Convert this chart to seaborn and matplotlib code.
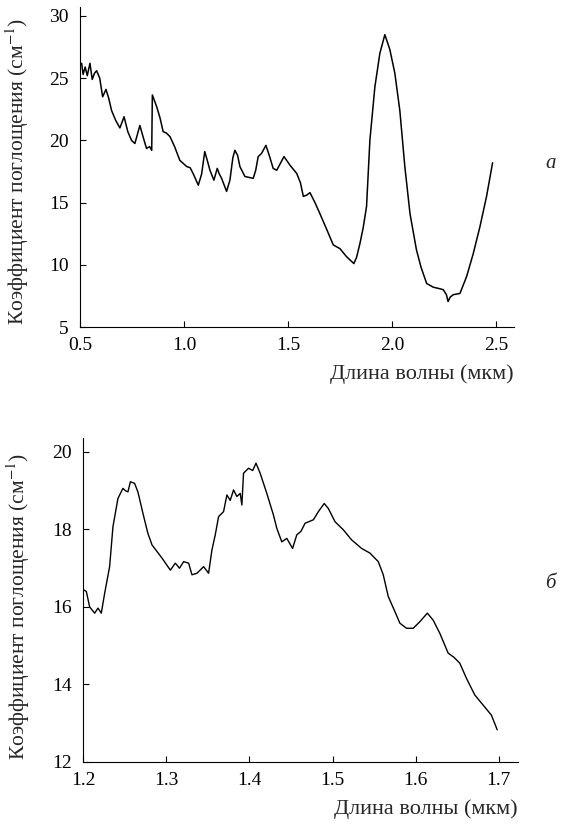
import matplotlib
matplotlib.use("Agg")
import matplotlib.pyplot as plt
import seaborn as sns
import pandas as pd

# panel a: absorption spectrum 0.5-2.5 um
wl_a = [0.508, 0.515, 0.525, 0.535, 0.548, 0.559, 0.57, 0.58, 0.595, 0.609, 0.625, 0.638,
        0.652, 0.672, 0.692, 0.712, 0.73, 0.748, 0.764, 0.788, 0.805, 0.82, 0.835, 0.845,
        0.848, 0.858, 0.869, 0.885, 0.90, 0.915, 0.933, 0.955, 0.98, 1.013, 1.03, 1.045,
        1.069, 1.085, 1.10, 1.112, 1.125, 1.144, 1.16, 1.17, 1.181, 1.205, 1.221, 1.235,
        1.245, 1.258, 1.269, 1.293, 1.333, 1.345, 1.357, 1.373, 1.394, 1.41, 1.429, 1.446,
        1.462, 1.481, 1.51, 1.542, 1.56, 1.574, 1.59, 1.606, 1.63, 1.654, 1.685, 1.718,
        1.75, 1.782, 1.817, 1.83, 1.846, 1.862, 1.878, 1.894, 1.918, 1.942, 1.966, 1.99,
        2.014, 2.038, 2.062, 2.087, 2.118, 2.14, 2.167, 2.199, 2.225, 2.247, 2.262, 2.27,
        2.28, 2.295, 2.327, 2.359, 2.391, 2.423, 2.455, 2.484]
abs_a = [26.2, 25.3, 25.9, 25.2, 26.2, 24.9, 25.4, 25.6, 25.0, 23.5, 24.1, 23.4,
         22.4, 21.6, 21.0, 21.9, 20.7, 20.0, 19.75, 21.2, 20.2, 19.35, 19.5, 19.2,
         23.65, 23.2, 22.7, 21.8, 20.7, 20.6, 20.3, 19.5, 18.4, 17.9, 17.8, 17.3,
         16.4, 17.3, 19.1, 18.4, 17.6, 16.8, 17.75, 17.3, 16.95, 15.9, 16.8, 18.6,
         19.2, 18.8, 17.9, 17.1, 16.95, 17.6, 18.7, 18.95, 19.6, 18.8, 17.75, 17.6,
         18.1, 18.7, 18.0, 17.35, 16.6, 15.5, 15.6, 15.8, 15.0, 14.1, 12.9, 11.6,
         11.3, 10.65, 10.1, 10.6, 11.7, 13.0, 14.7, 20.0, 24.3, 27.0, 28.5, 27.3,
         25.4, 22.4, 17.9, 14.1, 11.2, 9.8, 8.5, 8.2, 8.1, 8.0, 7.6, 7.05,
         7.4, 7.6, 7.7, 9.05, 10.9, 13.05, 15.5, 18.2]

# panel b: zoom on 1.2-1.7 um
wl_b = [1.201, 1.204, 1.208, 1.214, 1.218, 1.222, 1.226, 1.232, 1.236, 1.242, 1.248, 1.251,
        1.254, 1.257, 1.262, 1.266, 1.272, 1.278, 1.283, 1.289, 1.295, 1.305, 1.311, 1.316,
        1.321, 1.327, 1.331, 1.337, 1.345, 1.351, 1.355, 1.359, 1.363, 1.369, 1.373, 1.377,
        1.381, 1.385, 1.389, 1.391, 1.393, 1.399, 1.404, 1.408, 1.413, 1.421, 1.429, 1.433,
        1.439, 1.445, 1.452, 1.457, 1.462, 1.467, 1.477, 1.483, 1.49, 1.495, 1.503, 1.513,
        1.523, 1.535, 1.545, 1.555, 1.561, 1.567, 1.575, 1.581, 1.589, 1.597, 1.605, 1.614,
        1.621, 1.629, 1.639, 1.646, 1.653, 1.661, 1.671, 1.681, 1.691, 1.698]
abs_b = [16.44, 16.4, 16.0, 15.84, 15.97, 15.84, 16.35, 17.04, 18.07, 18.8, 19.06, 19.0,
         18.97, 19.23, 19.19, 18.97, 18.42, 17.9, 17.6, 17.43, 17.26, 16.95, 17.13, 17.0,
         17.17, 17.13, 16.83, 16.87, 17.04, 16.87, 17.47, 17.86, 18.33, 18.46, 18.89, 18.75,
         19.02, 18.85, 18.93, 18.63, 19.45, 19.58, 19.52, 19.71, 19.45, 18.93, 18.37, 18.03,
         17.68, 17.77, 17.51, 17.86, 17.95, 18.16, 18.25, 18.46, 18.67, 18.54, 18.2, 17.99,
         17.73, 17.51, 17.39, 17.17, 16.83, 16.27, 15.88, 15.58, 15.45, 15.45, 15.62, 15.84,
         15.66, 15.32, 14.81, 14.7, 14.55, 14.16, 13.73, 13.47, 13.21, 12.83]

ylabel = "Коэффициент поглощения (см$^{-1}$)"
xlabel = "Длина волны (мкм)"

sns.set_style("ticks")
plt.rcParams["font.family"] = ["Liberation Serif", "DejaVu Serif"]
plt.rcParams["mathtext.fontset"] = "stix"

fig = plt.figure(figsize=(5.62, 8.25), dpi=100)
ax_a = fig.add_axes([0.1423, 0.6036, 0.7723, 0.3879])
ax_b = fig.add_axes([0.1477, 0.0764, 0.7740, 0.3927])

df_a = pd.DataFrame({"wl": wl_a, "k": abs_a})
df_b = pd.DataFrame({"wl": wl_b, "k": abs_b})
sns.lineplot(data=df_a, x="wl", y="k", ax=ax_a, color="black", lw=1.1, sort=False)
sns.lineplot(data=df_b, x="wl", y="k", ax=ax_b, color="black", lw=1.0, sort=False)

ax_a.set_xlim(0.5, 2.587)
ax_a.set_ylim(5, 30.72)
ax_a.set_xticks([0.5, 1.0, 1.5, 2.0, 2.5])
ax_a.set_yticks([5, 10, 15, 20, 25, 30])

ax_b.set_xlim(1.2, 1.723)
ax_b.set_ylim(12, 20.36)
ax_b.set_xticks([1.2, 1.3, 1.4, 1.5, 1.6, 1.7])
ax_b.set_yticks([12, 14, 16, 18, 20])

for ax in (ax_a, ax_b):
    sns.despine(ax=ax)
    ax.tick_params(direction="in", length=4, width=0.8, labelsize=14, colors="black")
    ax.tick_params(axis="x", pad=7)
    ax.tick_params(axis="y", pad=8)
    ax.set_xlabel(xlabel, fontsize=16, loc="right")
    ax.set_ylabel(ylabel, fontsize=15.5)
    ax.xaxis.set_major_formatter(matplotlib.ticker.FormatStrFormatter("%.1f"))
    for s in ax.spines.values():
        s.set_color("black")

ax_a.xaxis.set_label_coords(1.0, -0.115)
ax_a.yaxis.set_label_coords(-0.113, 0.485)
ax_b.xaxis.set_label_coords(1.0, -0.114)
ax_b.yaxis.set_label_coords(-0.118, 0.48)

fig.text(0.989, 0.802, "а", fontsize=15, style="italic", ha="right", va="center")
fig.text(0.989, 0.293, "б", fontsize=15, style="italic", ha="right", va="center")

fig.savefig("out.png", dpi=100)
